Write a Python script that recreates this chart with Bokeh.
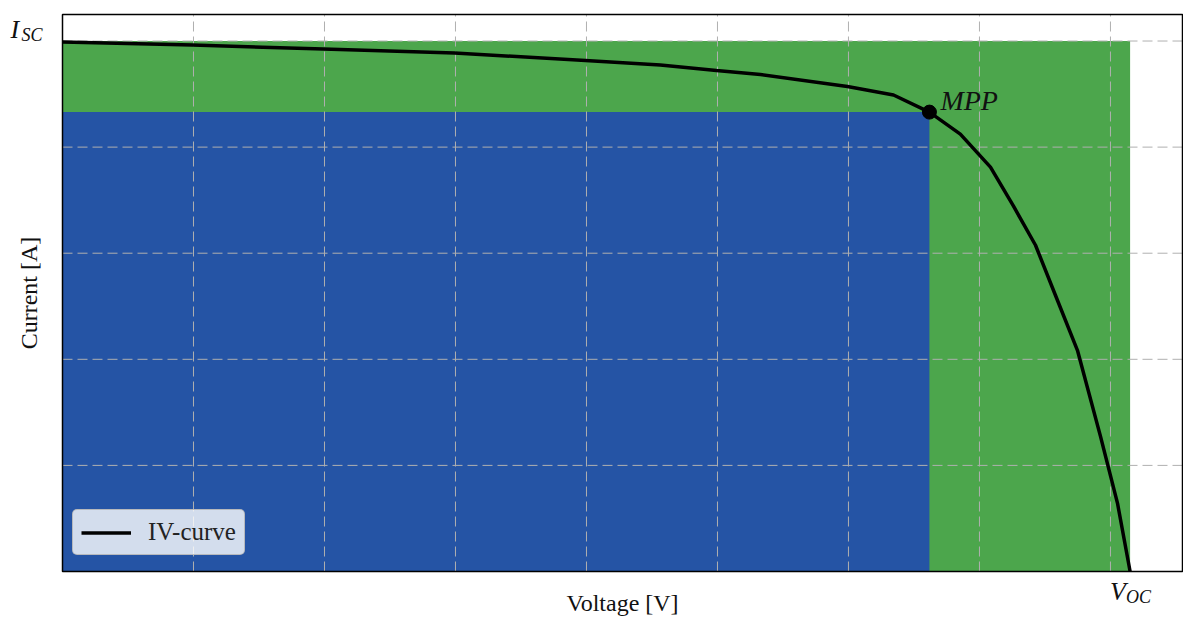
import numpy as np
from bokeh.plotting import figure
from bokeh.models import Range1d, Label, Legend, LegendItem
from bokeh.embed import file_html
from bokeh.resources import INLINE

# ---- data ----
voltage = [0.0, 4.96, 9.96, 14.96, 19.96, 22.82, 24.96, 26.64, 29.96, 31.72,
           33.09, 34.27, 35.42, 36.30, 37.14, 37.90, 38.74, 39.62, 40.27, 40.75]
current = [4.99, 4.962, 4.925, 4.887, 4.816, 4.774, 4.722, 4.684, 4.571, 4.491,
           4.330, 4.123, 3.811, 3.443, 3.075, 2.604, 2.085, 1.274, 0.642, 0.0]
I_sc = 5.0
V_oc = 40.75
V_mpp = 33.09
I_mpp = 4.330
x_grid = [5, 10, 15, 20, 25, 30, 35, 40]
y_grid = [1, 2, 3, 4, 5]

X_MAX = 42.75
Y_MAX = 5.25

# ---- layout (pixels) ----
W, H = 1183, 617
FL, FR, FT, FB = 62, 1182, 14, 571     # plot box edges on the canvas
sx = (FR - FL) / X_MAX
sy = (FB - FT) / Y_MAX

def px2x(px):
    return (px - FL) / sx

def px2y(py):
    return (FB - py) / sy

SERIF = "Liberation Serif"
GREEN = "#4ca64c"
BLUE = "#2554a5"
GRID = "#b0b0b0"

p = figure(width=W, height=H, output_backend="svg", toolbar_location=None,
           x_range=Range1d(px2x(0), px2x(W)), y_range=Range1d(px2y(H), px2y(0)),
           min_border=0)
p.xaxis.visible = False
p.yaxis.visible = False
p.xgrid.visible = False
p.ygrid.visible = False
p.outline_line_color = None
p.background_fill_color = "white"
p.border_fill_color = "white"

# power areas
p.quad(left=[0], right=[V_oc], bottom=[0], top=[I_sc], fill_color=GREEN, line_color=None)
p.quad(left=[0], right=[V_mpp], bottom=[0], top=[I_mpp], fill_color=BLUE, line_color=None)

# dashed grid, limited to the plot box
p.segment(x0=x_grid, y0=[0] * len(x_grid), x1=x_grid, y1=[Y_MAX] * len(x_grid),
          line_color=GRID, line_width=1, line_dash="10 5")
p.segment(x0=[0] * len(y_grid), y0=y_grid, x1=[X_MAX] * len(y_grid), y1=y_grid,
          line_color=GRID, line_width=1, line_dash="10 5")

# IV curve and MPP
curve = p.line(voltage, current, line_color="black", line_width=3.5)
p.scatter([V_mpp], [I_mpp], size=14, fill_color="black", line_color="black")

# plot box
p.quad(left=[0], right=[X_MAX], bottom=[0], top=[Y_MAX], fill_color=None,
       line_color="black", line_width=1.5)

legend = Legend(items=[LegendItem(label="IV-curve", renderers=[curve])],
                location=(FL + 10, H - FB + 16), margin=0, padding=8, spacing=0,
                glyph_width=50, glyph_height=23, label_height=23, label_standoff=17,
                label_text_font=SERIF, label_text_font_size="25px",
                label_text_color="#222222",
                background_fill_color="white", background_fill_alpha=0.8,
                border_line_color="#b0b0b0", border_line_alpha=0.8,
                border_line_width=1.5, border_radius=5)
p.add_layout(legend)

def lab(x, y, text, size, style="normal", align="left", angle=0.0):
    # y is the vertical centre of the text
    p.add_layout(Label(x=x, y=y, text=text, text_font=SERIF, text_font_size=size,
                       text_font_style=style, text_align=align, text_baseline="middle",
                       angle=angle, text_color="#111111"))

# MPP label
lab(V_mpp + 11 / sx, I_mpp + 12 / sy, "MPP", "28px", "italic")
# I_SC tick label
lab(px2x(10), px2y(29), "I", "26px", "italic")
lab(px2x(21), px2y(34), "SC", "18px", "italic")
# V_OC tick label
lab(V_oc - 20 / sx, px2y(591), "V", "26px", "italic")
lab(V_oc - 4 / sx, px2y(596), "OC", "18px", "italic")
# axis labels
lab(X_MAX / 2, px2y(602), "Voltage [V]", "24px", align="center")
lab(px2x(28), Y_MAX / 2, "Current [A]", "24px", align="center", angle=np.pi / 2)

open("out.html", "w").write(file_html(p, INLINE))
